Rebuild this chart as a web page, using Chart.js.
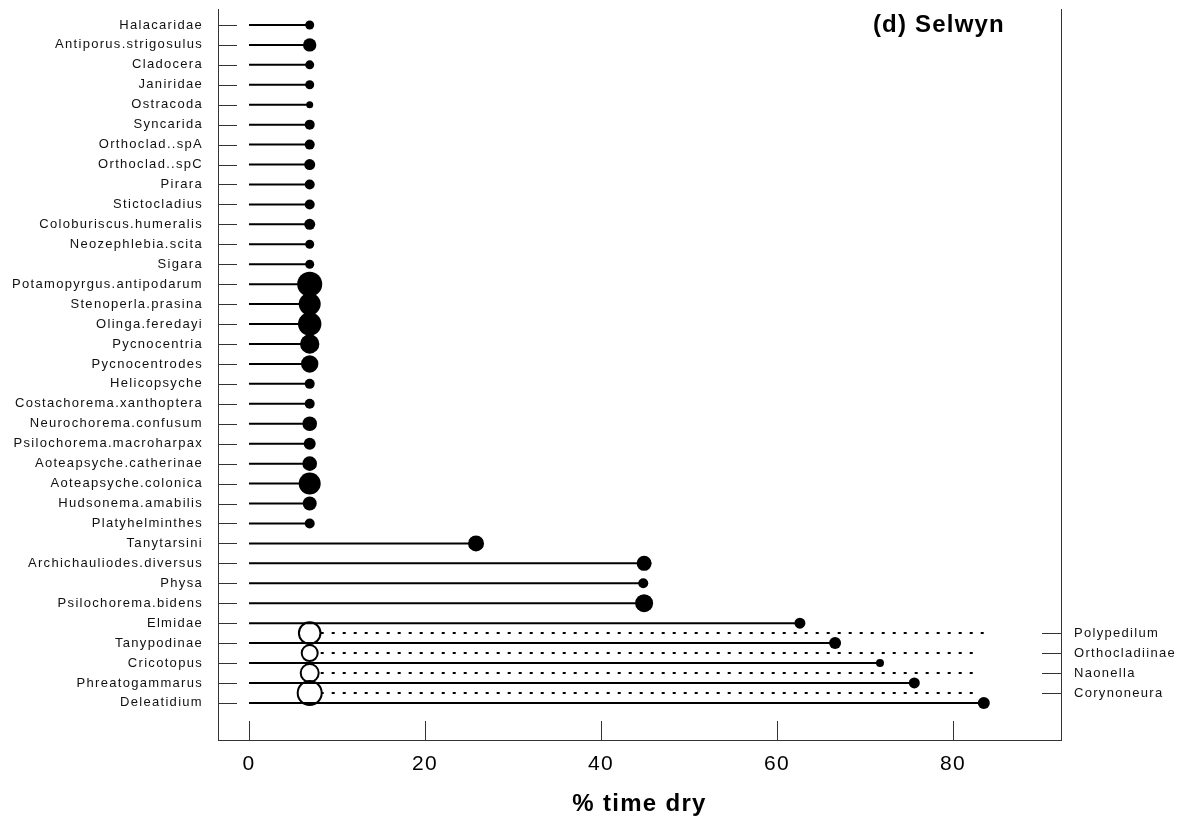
<!DOCTYPE html>
<html><head><meta charset="utf-8">
<script src="https://cdn.jsdelivr.net/npm/chart.js@4.4.1/dist/chart.umd.min.js"></script>
<style>html,body{margin:0;padding:0;background:#fff;}#wrap{width:1180px;height:820px;}</style>
</head><body><div id="wrap"><canvas id="c" width="1180" height="820"></canvas></div>
<script>
const taxa = ['Halacaridae','Antiporus.strigosulus','Cladocera','Janiridae','Ostracoda','Syncarida','Orthoclad..spA','Orthoclad..spC','Pirara','Stictocladius','Coloburiscus.humeralis','Neozephlebia.scita','Sigara','Potamopyrgus.antipodarum','Stenoperla.prasina','Olinga.feredayi','Pycnocentria','Pycnocentrodes','Helicopsyche','Costachorema.xanthoptera','Neurochorema.confusum','Psilochorema.macroharpax','Aoteapsyche.catherinae','Aoteapsyche.colonica','Hudsonema.amabilis','Platyhelminthes','Tanytarsini','Archichauliodes.diversus','Physa','Psilochorema.bidens','Elmidae','Tanypodinae','Cricotopus','Phreatogammarus','Deleatidium'];
const changePoints = [6.9,6.9,6.9,6.9,6.9,6.9,6.9,6.9,6.9,6.9,6.9,6.9,6.9,6.9,6.9,6.9,6.9,6.9,6.9,6.9,6.9,6.9,6.9,6.9,6.9,6.9,25.8,44.9,44.8,44.9,62.6,66.6,71.7,75.6,83.5];
const pointSize = [4.5,6.7,4.5,4.5,3.5,5,5,5.5,5,5,5.5,4.5,4.5,12.5,11,11.7,9.7,8.7,5,5,7.3,6,7.3,11,7,5,8,7.5,5,9,5.5,6,4,5.5,6];
const negTaxa = ['Polypedilum','Orthocladiinae','Naonella','Corynoneura'];
const negRows = [30.5,31.5,32.5,33.5];
const negStart = [6.9,6.9,6.9,6.9];
const negEnd = [84.3,83.1,83.1,83.1];
const negSize = [10.8,8,9,12];
const xTicks = [0,20,40,60,80];
const siteTitle = '(d) Selwyn';
const xTitle = '% time dry';

const FONT = "'Liberation Sans', Arial, sans-serif";
Chart.defaults.font.family = FONT;

const datasets = [];
taxa.forEach((t,i)=>{
  datasets.push({data:[{x:0,y:i},{x:changePoints[i],y:i}], showLine:true, borderColor:'#000', borderWidth:2, pointRadius:0, pointHoverRadius:0, order:2});
});
datasets.push({data:taxa.map((t,i)=>({x:changePoints[i],y:i})), showLine:false, pointRadius:pointSize, pointHoverRadius:pointSize, pointBackgroundColor:'#000', pointBorderColor:'#000', pointBorderWidth:0, order:1});
negTaxa.forEach((t,j)=>{
  datasets.push({data:[{x:negStart[j],y:negRows[j]},{x:negEnd[j],y:negRows[j]}], showLine:true, borderColor:'#000', borderWidth:2, borderDash:[3,8], pointRadius:0, pointHoverRadius:0, order:4});
});
datasets.push({data:negTaxa.map((t,j)=>({x:negStart[j],y:negRows[j]})), showLine:false, pointRadius:negSize, pointHoverRadius:negSize, pointBackgroundColor:'#fff', pointBorderColor:'#000', pointBorderWidth:2, order:3});

const spacing = {id:'spacing', beforeDraw(chart){ chart.ctx.letterSpacing='1.3px'; }};
const inwardTicks = {id:'inwardTicks', afterDatasetsDraw(chart){
  const {ctx, chartArea:a, scales} = chart;
  ctx.save(); ctx.strokeStyle='#333'; ctx.lineWidth=1; ctx.beginPath();
  scales.x.ticks.forEach(t=>{const p=Math.round(scales.x.getPixelForValue(t.value))+0.5; ctx.moveTo(p,a.bottom); ctx.lineTo(p,a.bottom-19);});
  scales.y.ticks.forEach(t=>{const p=Math.round(scales.y.getPixelForValue(t.value))+0.5; ctx.moveTo(a.left,p); ctx.lineTo(a.left+19,p);});
  scales.y2.ticks.forEach(t=>{const p=Math.round(scales.y2.getPixelForValue(t.value))+0.5; ctx.moveTo(a.right,p); ctx.lineTo(a.right-19,p);});
  ctx.stroke(); ctx.restore();
}};
const panelTitle = {id:'panelTitle', afterDraw(chart){
  const {ctx, scales} = chart;
  ctx.save(); ctx.letterSpacing='1.2px'; ctx.font="bold 24px "+FONT; ctx.fillStyle='#000'; ctx.textAlign='center'; ctx.textBaseline='middle';
  ctx.fillText(siteTitle, scales.x.getPixelForValue(78.4), scales.y.getPixelForValue(0));
  ctx.restore();
}};
function noPad(s){ s.paddingTop=0; s.paddingBottom=0; s.paddingLeft=0; s.paddingRight=0; }

const yMin=-0.8, yMax=35.86;
new Chart(document.getElementById('c'), {
  type:'scatter',
  data:{datasets},
  plugins:[spacing, inwardTicks, panelTitle],
  options:{
    responsive:false, animation:false, events:[],
    layout:{autoPadding:false, padding:{top:9,left:0,right:0,bottom:0}},
    plugins:{legend:{display:false}, tooltip:{enabled:false}},
    scales:{
      x:{type:'linear', min:-3.52, max:92.27,
        afterBuildTicks:s=>{s.ticks=xTicks.map(v=>({value:v}));},
        ticks:{font:{size:21}, color:'#000', padding:12},
        grid:{drawOnChartArea:false, drawTicks:false},
        border:{display:true, color:'#333', width:1},
        title:{display:true, text:xTitle, font:{size:24, weight:'bold'}, color:'#000', padding:{top:0,bottom:1}},
        afterFit:s=>{s.height=80; noPad(s);}},
      y:{type:'linear', reverse:true, min:yMin, max:yMax,
        afterBuildTicks:s=>{s.ticks=taxa.map((t,i)=>({value:i}));},
        ticks:{autoSkip:false, callback:(v)=>taxa[v], font:{size:13}, color:'#111', padding:15},
        grid:{drawOnChartArea:false, drawTicks:false},
        border:{display:true, color:'#333', width:1},
        afterFit:s=>{s.width=218; noPad(s);}},
      y2:{type:'linear', position:'right', reverse:true, min:yMin, max:yMax,
        afterBuildTicks:s=>{s.ticks=negRows.map(v=>({value:v}));},
        ticks:{autoSkip:false, callback:(v,i)=>negTaxa[i], font:{size:13}, color:'#111', padding:13},
        grid:{drawOnChartArea:false, drawTicks:false},
        border:{display:true, color:'#333', width:1},
        afterFit:s=>{s.width=119; noPad(s);}}
    }
  }
});
</script></body></html>
